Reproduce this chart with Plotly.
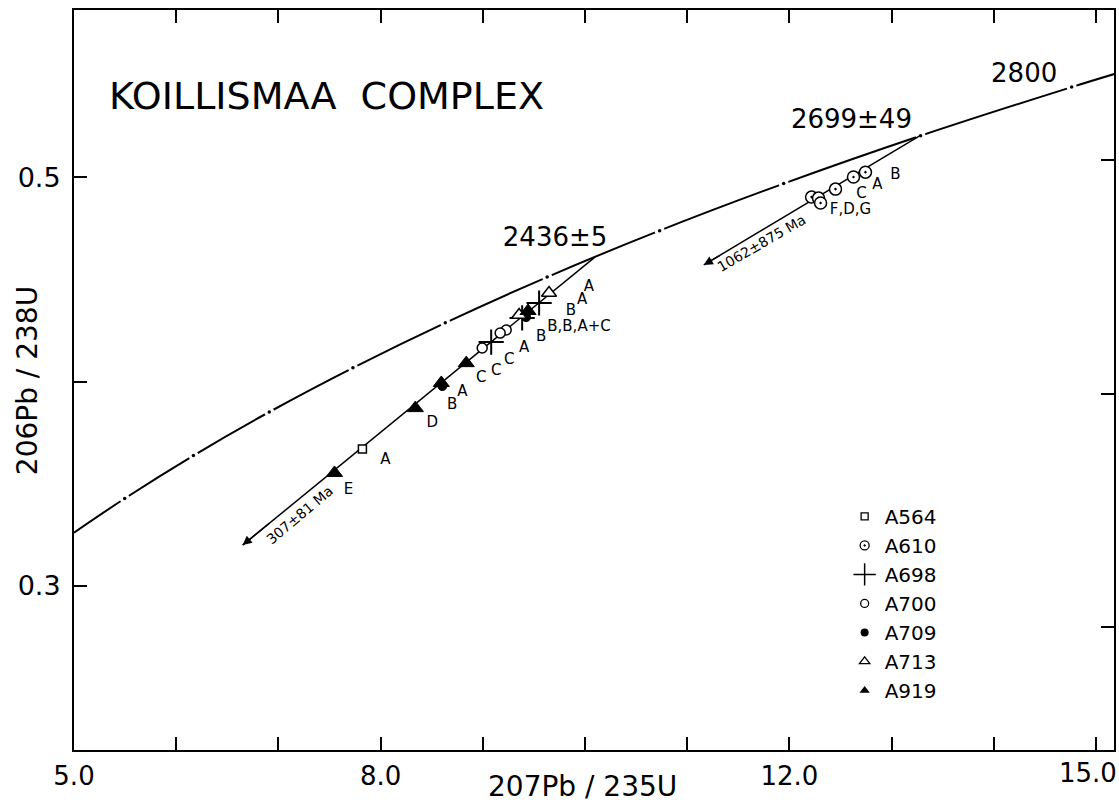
import plotly.graph_objects as go

# ---------------- data ----------------
# concordia curve (207Pb/235U, 206Pb/238U) at ages (Ma)
conc_age = [1819, 1900, 2000, 2100, 2200, 2300, 2400, 2500, 2600, 2700, 2800, 2827]
conc_x = [5.000, 5.4962, 6.1685, 6.9105, 7.7292, 8.6327, 9.6296, 10.7298, 11.9438, 13.2834, 14.7617, 15.18]
conc_y = [0.3261, 0.3428, 0.3638, 0.3851, 0.4067, 0.4287, 0.4511, 0.4738, 0.4968, 0.5202, 0.5440, 0.5504]

# 100 Ma tick marks on the concordia
mark_x = [5.4962, 6.1685, 6.9105, 7.7292, 8.6327, 9.6296, 10.7298, 11.9438, 13.2834, 14.7617]
mark_y = [0.3428, 0.3638, 0.3851, 0.4067, 0.4287, 0.4511, 0.4738, 0.4968, 0.5202, 0.5440]

# discordia lines: upper intercept -> lower arrow tip
disc1_x = [10.10, 6.650]
disc1_y = [0.4610, 0.3200]
disc2_x = [13.27, 11.162]
disc2_y = [0.5200, 0.4570]

# samples
a564_x = [7.822]
a564_y = [0.3670]
a610_x = [12.217, 12.285, 12.305, 12.451, 12.627, 12.744]
a610_y = [0.4902, 0.4897, 0.4873, 0.4941, 0.5000, 0.5024]
a698_x = [9.551, 9.385, 9.082]
a698_y = [0.4384, 0.4311, 0.4193]
a700_x = [9.229, 9.170, 8.994]
a700_y = [0.4252, 0.4237, 0.4164]
a709_x = [9.424, 8.604]
a709_y = [0.4315, 0.3978]
a713_x = [9.648, 9.355]
a713_y = [0.4433, 0.4325]
a919_x = [9.443, 8.838, 8.594, 8.340, 7.549]
a919_y = [0.4345, 0.4090, 0.3993, 0.3870, 0.3553]

# fraction letters
lab_text = ["A", "A", "B", "B,B,A+C", "B", "A", "C", "C", "C", "A", "B", "D", "A", "E",
            "B", "A", "C", "F,D,G"]
lab_x = [10.039, 9.971, 9.863, 9.941, 9.570, 9.404, 9.258, 9.131, 8.984, 8.799, 8.701, 8.506, 8.047, 7.686,
         13.037, 12.861, 12.705, 12.598]
lab_y = [0.4462, 0.4399, 0.4345, 0.4267, 0.4218, 0.4164, 0.4105, 0.4051, 0.4017, 0.3949, 0.3885, 0.3797, 0.3616, 0.3469,
         0.5010, 0.4961, 0.4917, 0.4839]

# age labels
age_text = ["2436±5", "2699±49", "2800"]
age_x = [9.707, 12.607, 14.297]
age_y = [0.4697, 0.5274, 0.5499]

# lower-intercept labels (text, x, y, angle)
low_text = ["307±81 Ma", "1062±875 Ma"]
low_x = [7.207, 11.729]
low_y = [0.3347, 0.4677]
low_angle = [-40, -30]

x_tickvals = [5, 6, 7, 8, 9, 10, 11, 12, 13, 14, 15]
x_ticktext = ["5.0", "", "", "8.0", "", "", "", "12.0", "", "", ""]
x_last_label = "15.0"
y_tickvals = [0.3, 0.4, 0.5]
y_ticktext = ["0.3", "", "0.5"]
right_tickvals = [0.5083, 0.3939, 0.2800]

FONT = "DejaVu Sans"
fig = go.Figure()

# concordia
fig.add_trace(go.Scatter(x=conc_x, y=conc_y, mode="lines", line=dict(color="black", width=2, shape="spline"),
                         showlegend=False, hoverinfo="skip"))
fig.add_trace(go.Scatter(x=mark_x, y=mark_y, mode="markers", marker=dict(color="white", size=10, line=dict(width=0)),
                         showlegend=False, hoverinfo="skip"))
fig.add_trace(go.Scatter(x=mark_x, y=mark_y, mode="markers", marker=dict(color="black", size=3.5),
                         showlegend=False, hoverinfo="skip"))

# discordias
for dx, dy in [(disc1_x, disc1_y), (disc2_x, disc2_y)]:
    fig.add_trace(go.Scatter(x=dx, y=dy, mode="lines", line=dict(color="black", width=1.5),
                             showlegend=False, hoverinfo="skip"))
    fig.add_annotation(x=dx[1], y=dy[1], ax=dx[1] + (dx[0] - dx[1]) * 0.08, ay=dy[1] + (dy[0] - dy[1]) * 0.08,
                       xref="x", yref="y", axref="x", ayref="y", showarrow=True, arrowhead=2,
                       arrowsize=1.3, arrowwidth=1.4, arrowcolor="black", text="")

samples = [
    ("A564", a564_x, a564_y, dict(symbol="square", size=8, color="white", line=dict(color="black", width=1.5)),
     dict(symbol="square-open", size=7, color="black", line=dict(width=1.3))),
    ("A610", a610_x, a610_y, dict(symbol="circle-dot", size=12, color="white", line=dict(color="black", width=1.5)),
     dict(symbol="circle-open-dot", size=9, color="black", line=dict(width=1.3))),
    ("A698", a698_x, a698_y, dict(symbol="cross-thin-open", size=18, color="black", line=dict(color="black", width=2)),
     dict(symbol="cross-thin-open", size=16, color="black", line=dict(width=1.5))),
    ("A700", a700_x, a700_y, dict(symbol="circle", size=10, color="white", line=dict(color="black", width=1.5)),
     dict(symbol="circle-open", size=8, color="black", line=dict(width=1.3))),
    ("A709", a709_x, a709_y, dict(symbol="circle", size=9, color="black", line=dict(color="black", width=1)),
     dict(symbol="circle", size=8, color="black")),
    ("A713", a713_x, a713_y, dict(symbol="triangle-up", size=13, color="white", line=dict(color="black", width=1.5)),
     dict(symbol="triangle-up-open", size=9, color="black", line=dict(width=1.3))),
    ("A919", a919_x, a919_y, dict(symbol="triangle-up", size=14, color="black", line=dict(color="black", width=1)),
     dict(symbol="triangle-up", size=9, color="black")),
]
for name, sx, sy, mk, lmk in samples:
    fig.add_trace(go.Scatter(x=sx, y=sy, mode="markers", marker=mk, showlegend=False, name=name))
for name, sx, sy, mk, lmk in samples:
    fig.add_trace(go.Scatter(x=[None], y=[None], mode="markers", marker=lmk, name=name, showlegend=True))

# letters
fig.add_trace(go.Scatter(x=lab_x, y=lab_y, mode="text", text=lab_text,
                         textfont=dict(family=FONT, size=15, color="black"), showlegend=False, hoverinfo="skip"))
fig.add_trace(go.Scatter(x=age_x, y=age_y, mode="text", text=age_text,
                         textfont=dict(family=FONT, size=26, color="black"), showlegend=False, hoverinfo="skip"))

for t, lx, ly, ang in zip(low_text, low_x, low_y, low_angle):
    fig.add_annotation(x=lx, y=ly, xref="x", yref="y", text=t, textangle=ang, showarrow=False,
                       font=dict(family=FONT, size=14, color="black"))

# dummy trace for right axis ticks
fig.add_trace(go.Scatter(x=[None], y=[None], yaxis="y2", showlegend=False, hoverinfo="skip"))

fig.add_annotation(x=0.2428, y=0.8838, xref="paper", yref="paper", text="KOILLISMAA  COMPLEX",
                   xanchor="center", yanchor="middle",
                   showarrow=False, font=dict(family=FONT, size=38, color="black"))
fig.add_annotation(x=-0.0451, y=0.4986, xref="paper", yref="paper", text="206Pb / 238U", textangle=-90,
                   xanchor="center", yanchor="middle",
                   showarrow=False, font=dict(family=FONT, size=28, color="black"))
fig.add_annotation(x=0.4885, y=-0.0487, xref="paper", yref="paper", text="207Pb / 235U",
                   xanchor="center", yanchor="middle",
                   showarrow=False, font=dict(family=FONT, size=28, color="black"))
# last x tick label, shifted left so it stays inside the page
fig.add_annotation(x=x_tickvals[-1], y=-0.0311, xref="x", yref="paper", text=x_last_label, xshift=-8,
                   xanchor="center", yanchor="middle",
                   showarrow=False, font=dict(family=FONT, size=26, color="black"))

fig.update_layout(
    width=1119, height=806,
    margin=dict(l=74, r=3, t=10, b=56),
    paper_bgcolor="white", plot_bgcolor="white",
    xaxis=dict(range=[5.0, 15.176], tickvals=x_tickvals, ticktext=x_ticktext, ticks="inside", ticklen=13,
               tickwidth=1.5, tickcolor="black", showline=True, linewidth=2, linecolor="black", mirror="ticks",
               showgrid=False, zeroline=False, tickfont=dict(family=FONT, size=26, color="black"),
               ticklabelstandoff=2),
    yaxis=dict(range=[0.2198, 0.5817], tickvals=y_tickvals, ticktext=y_ticktext, ticks="inside", ticklen=13,
               tickwidth=1.5, tickcolor="black", showline=True, linewidth=2, linecolor="black", mirror=True,
               showgrid=False, zeroline=False, tickfont=dict(family=FONT, size=27, color="black"),
               ticklabelstandoff=6),
    yaxis2=dict(range=[0.2198, 0.5817], overlaying="y", side="right", tickvals=right_tickvals, ticks="inside",
                ticklen=13, tickwidth=1.5, tickcolor="black", showticklabels=False, showline=False,
                showgrid=False, zeroline=False),
    legend=dict(x=0.741, y=0.342, xanchor="left", yanchor="top", bgcolor="rgba(0,0,0,0)",
                font=dict(family=FONT, size=20, color="black"), itemsizing="trace", tracegroupgap=0),
    showlegend=True,
)

fig.write_html("out.html")
